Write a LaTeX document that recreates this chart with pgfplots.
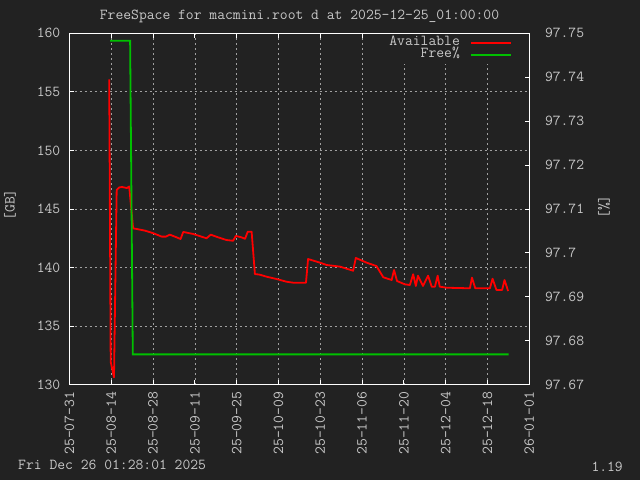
\documentclass[border=0pt]{standalone}
\usepackage{pgfplots}
\pgfplotsset{compat=1.18}
\definecolor{bg}{HTML}{222222}
\definecolor{fg}{HTML}{C8C8C8}
\definecolor{gridc}{HTML}{A0A0A0}
\definecolor{gpgreen}{HTML}{00C000}
\newcommand\gfont{\ttfamily\fontsize{15.2}{15.2}\selectfont}
\begin{document}
\begin{tikzpicture}[font=\gfont]
\path[use as bounding box, fill=bg] (0,0) rectangle (640pt,480pt);
\begin{axis}[
  at={(69.5pt,95.3pt)}, anchor=south west, scale only axis,
  width=459.8pt, height=351.4pt,
  xmin=0, xmax=154, ymin=130, ymax=160,
  xtick={0,14,28,42,56,70,84,98,112,126,140,154},
  xticklabels={25-07-31,25-08-14,25-08-28,25-09-11,25-09-25,25-10-09,25-10-23,25-11-06,25-11-20,25-12-04,25-12-18,26-01-01},
  ytick={130,135,140,145,150,155,160},
  yticklabels={130,135,140,145,150,155,160},
  xtick pos=both, ytick pos=left, tick align=inside,
  major tick length=4.5pt,
  axis line style={white, line width=1pt},
  every tick/.style={white, line width=1pt},
  xmajorgrids, ymajorgrids,
  major grid style={gridc, line width=0.8pt, dash pattern=on 2pt off 3pt},
  xticklabel style={rotate=90, anchor=east, inner sep=0pt, font=\gfont, text=fg},
  xticklabel shift=7pt,
  yticklabel style={anchor=east, inner sep=0pt, font=\gfont, text=fg},
  yticklabel shift=9pt,
  /pgf/number format/assume math mode=true,
  legend plot pos=right, legend cell align=right,
  legend image code/.code={\draw[#1, line width=2pt] (0pt,0pt) -- (40pt,0pt);},
  legend style={draw=none, fill=bg, inner sep=3pt,
    at={(rel axis cs:0.969,0.998)}, anchor=north east,
    font=\gfont, text=fg,
    nodes={inner sep=0pt, text height=8pt, text depth=4pt},
    /tikz/every odd column/.append style={column sep=10pt}},
]
\addplot[red, line width=1.8pt, line join=round] coordinates {
(13.3,156.07) (13.8,131.96) (14.9,130.63) (15.8,146.62) (16.6,146.84) (17.6,146.88)
(19.2,146.79) (20.0,146.92) (21.3,143.35) (23.0,143.27) (25.3,143.15) (28.1,142.93)
(30.9,142.64) (32.3,142.64) (33.6,142.81) (35.3,142.64) (37.2,142.44) (38.1,143.04)
(41.4,142.87) (45.9,142.50) (47.3,142.81) (49.8,142.58) (52.6,142.35) (54.8,142.29)
(55.7,142.70) (57.6,142.58) (58.8,142.46) (59.7,143.06) (61.0,143.06) (62.1,139.45)
(63.8,139.39) (66.0,139.22) (69.4,139.02) (72.7,138.79) (74.9,138.71) (79.2,138.71)
(79.9,140.73) (83.9,140.42) (86.1,140.22) (90.6,140.08) (95.0,139.73) (95.9,140.82)
(99.5,140.42) (102.8,140.13) (105.1,139.17) (107.9,138.94) (108.7,139.79) (109.7,138.85)
(112.3,138.57) (114.0,138.51) (115.1,139.43) (116.0,138.43) (116.7,139.31) (118.4,138.43)
(120.1,139.31) (121.3,138.37) (122.4,138.37) (123.3,139.31) (124.0,138.37) (126.3,138.28)
(134.1,138.23) (134.8,139.14) (135.9,138.23) (140.8,138.23) (141.7,139.05) (143.0,138.09)
(144.9,138.09) (145.7,138.94) (146.9,138.00)
};
\addlegendentry{Available}
\addlegendimage{gpgreen, line width=1.8pt}
\addlegendentry{Free\%}
\end{axis}
\begin{axis}[
  at={(69.5pt,95.3pt)}, anchor=south west, scale only axis,
  width=459.8pt, height=351.4pt,
  xmin=0, xmax=154, ymin=97.67, ymax=97.75,
  axis x line=none, axis y line*=right,
  ytick={97.67,97.68,97.69,97.70,97.71,97.72,97.73,97.74,97.75},
  yticklabels={97.67,97.68,97.69,97.7,97.71,97.72,97.73,97.74,97.75},
  tick align=inside, major tick length=4.5pt,
  axis line style={white, line width=1pt},
  every tick/.style={white, line width=1pt},
  yticklabel style={anchor=west, inner sep=0pt, font=\gfont, text=fg},
  yticklabel shift=15.5pt,
  /pgf/number format/assume math mode=true,
]
\addplot[gpgreen, line width=1.8pt] coordinates {
(13.6,97.7483) (20.3,97.7483) (21.2,97.6769) (147.1,97.6769)
};
\end{axis}
\node[text=fg, font=\gfont] at (299.5pt,464pt) {FreeSpace for macmini.root d at 2025-12-25\_01:00:00};
\node[text=fg, font=\gfont, rotate=90] at (10pt,275pt) {[GB]};
\node[text=fg, font=\gfont, rotate=90] at (604pt,273pt) {[\%]};
\node[text=fg, font=\gfont, anchor=west, inner sep=0pt] at (18pt,15pt) {Fri Dec 26 01:28:01 2025};
\node[text=fg, font=\gfont, anchor=east, inner sep=0pt] at (623pt,13pt) {1.19};
\end{tikzpicture}
\end{document}
